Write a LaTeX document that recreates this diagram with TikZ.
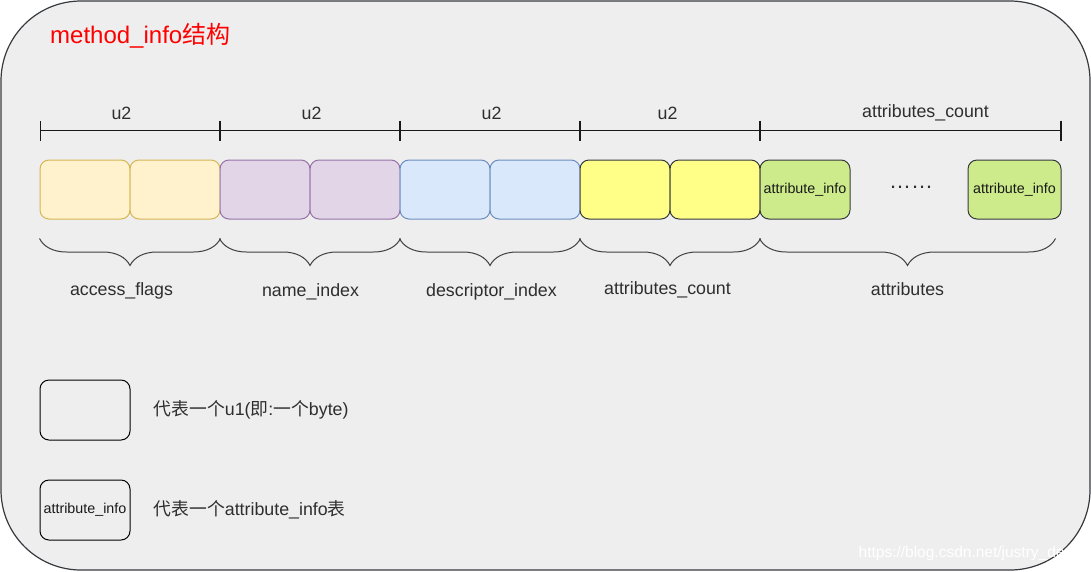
\documentclass[tikz,border=0pt]{standalone}
\usepackage{fontspec}
\setmainfont{Liberation Sans}
\newfontfamily\cjk{Noto Sans CJK SC}
\usepackage{tikz}
\usetikzlibrary{positioning,arrows.meta,decorations.pathreplacing}
\definecolor{flagfill}{HTML}{FFF2CC}
\definecolor{flagline}{HTML}{D6B656}
\definecolor{namefill}{HTML}{E1D5E7}
\definecolor{nameline}{HTML}{9673A6}
\definecolor{descfill}{HTML}{DAE8FC}
\definecolor{descline}{HTML}{6C8EBF}
\definecolor{countfill}{HTML}{FFFF88}
\definecolor{attrfill}{HTML}{CDEB8B}
\definecolor{darkline}{HTML}{36393D}
\definecolor{bgfill}{HTML}{EEEEEE}
\tikzstyle{frame} = [draw=darkline, fill=bgfill, line width=1.2, rounded corners=80]
\tikzstyle{cell} = [draw, rounded corners=9, minimum width=90, minimum height=59, inner sep=0, line width=1, text=black!90, font=\fontsize{14.3}{17}\selectfont]
\tikzstyle{flagcell} = [cell, fill=flagfill, draw=flagline]
\tikzstyle{namecell} = [cell, fill=namefill, draw=nameline]
\tikzstyle{desccell} = [cell, fill=descfill, draw=descline]
\tikzstyle{countcell} = [cell, fill=countfill, draw=darkline]
\tikzstyle{attrcell} = [cell, fill=attrfill, draw=darkline]
\tikzstyle{legendcell} = [cell, draw=black, fill=none, minimum height=60]
\tikzstyle{fieldtext} = [text=black!82, inner sep=0, font=\fontsize{17.8}{21}\selectfont]
\tikzstyle{titletext} = [text=red, inner sep=0, anchor=west, font=\fontsize{24}{28}\selectfont]
\tikzstyle{ruler} = [draw, line width=1.2, color=black!90, {Bar[width=20pt]}-{Bar[width=20pt]}]
\tikzstyle{brace} = [draw, line width=1, color=black!75, decorate, decoration={brace,mirror,amplitude=27pt}]
\newcommand{\cell}[3]{node (c#1) [#2] {#3}}

\begin{document}
\begin{tikzpicture}[x=1pt,y=-1pt]
\useasboundingbox (0,0) rectangle (1091,571);
\path [frame] (1,1) rectangle (1090,570);
\path (50,36) node (title) [titletext] {method\_info{\cjk 结构}};

% bytes of one method_info
\path (85,189.5) \cell{1}{flagcell}{};
\path (c1)+(90,0) \cell{2}{flagcell}{};
\path (c2)+(90,0) \cell{3}{namecell}{};
\path (c3)+(90,0) \cell{4}{namecell}{};
\path (c4)+(90,0) \cell{5}{desccell}{};
\path (c5)+(90,0) \cell{6}{desccell}{};
\path (c6)+(90,0) \cell{7}{countcell}{};
\path (c7)+(90,0) \cell{8}{countcell}{};
\path (c8)+(90,0) \cell{9}{attrcell}{attribute\_info};
\path (c9)+(106,-2) node (dots) [fieldtext,font=\fontsize{22}{24}\selectfont] {……};
\path (c9)+(209.5,0) \cell{10}{attrcell,minimum width=93}{attribute\_info};

% sizes above
\path [ruler] ([yshift=29]c1.north west) -- ([yshift=29]c2.north east);
\path [ruler] ([yshift=29]c3.north west) -- ([yshift=29]c4.north east);
\path [ruler] ([yshift=29]c5.north west) -- ([yshift=29]c6.north east);
\path [ruler] ([yshift=29]c7.north west) -- ([yshift=29]c8.north east);
\path [ruler] ([yshift=29]c9.north west) -- ([yshift=29]c10.north east);
\path (c1.north east)+(-9,-46) node (s1) [fieldtext] {u2};
\path (c3.north east)+(1,-46) node (s2) [fieldtext] {u2};
\path (c5.north east)+(1,-46) node (s3) [fieldtext] {u2};
\path (c7.north east)+(-3,-46) node (s4) [fieldtext] {u2};
\path (c9.north west)+(166,-47) node (s5) [fieldtext] {attributes\_count};

% field names below
\path [brace] ([yshift=-19]c1.south west) -- ([yshift=-19]c2.south east);
\path [brace] ([yshift=-19]c3.south west) -- ([yshift=-19]c4.south east);
\path [brace] ([yshift=-19]c5.south west) -- ([yshift=-19]c6.south east);
\path [brace] ([yshift=-19]c7.south west) -- ([yshift=-19]c8.south east);
\path [brace] ([yshift=-19]c9.south west) -- ([xshift=-6,yshift=-19]c10.south east);
\path (c1.south east)+(-9,71) node (n1) [fieldtext] {access\_flags};
\path (c3.south east)+(0,72) node (n2) [fieldtext] {name\_index};
\path (c5.south east)+(1,72) node (n3) [fieldtext] {descriptor\_index};
\path (c7.south east)+(-3,70) node (n4) [fieldtext] {attributes\_count};
\path (c9.south west)+(148,70) node (n5) [fieldtext] {attributes};

% legend
\path (c1)+(0,220.5) \cell{l1}{legendcell}{};
\path (c1)+(0,320.5) \cell{l2}{legendcell}{attribute\_info};
\path (cl1.east)+(23,0) node (t1) [fieldtext,anchor=west] {{\cjk 代表一个}u1({\cjk 即}:{\cjk 一个}byte)};
\path (cl2.east)+(23,0) node (t2) [fieldtext,anchor=west] {{\cjk 代表一个}attribute\_info{\cjk 表}};

\path (1082,553) node (wm) [anchor=east, inner sep=0, text=white, font=\fontsize{15.5}{18}\selectfont] {https://blog.csdn.net/justry\_deng};
\end{tikzpicture}
\end{document}
